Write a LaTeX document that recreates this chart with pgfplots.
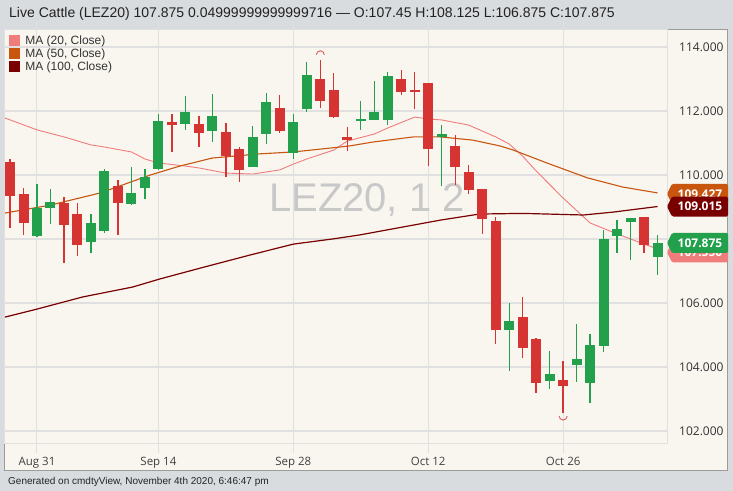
\documentclass[border=0pt]{standalone}
\usepackage{pgfplots}
\pgfplotsset{compat=1.18}
\usepackage{pgfplotstable}
\usepackage{fontspec}
\setmainfont{Liberation Sans}
\newfontfamily\osans{Open Sans}

\definecolor{bggray}{HTML}{D9DCDF}
\definecolor{cream}{HTML}{F9F6F0}
\definecolor{gridc}{HTML}{E0E0E0}
\definecolor{framec}{HTML}{9C9C9C}
\definecolor{upc}{HTML}{22A04B}
\definecolor{dnc}{HTML}{D63333}
\definecolor{ma20c}{HTML}{F07C7C}
\definecolor{ma50c}{HTML}{C8560F}
\definecolor{ma100c}{HTML}{780000}
\definecolor{wmc}{HTML}{C8C8C8}
\definecolor{txtc}{HTML}{222222}

% daily candles, x = trading day (0 = Aug 31)
\pgfplotstableread{
x   o       h       l       c
0   108.09  109.72  108.06  108.97
1   108.97  109.56  108.47  109.16
4   107.91  108.78  107.56  108.50
5   108.25  110.19  108.19  110.125
7   109.09  110.25  109.06  109.44
8   109.59  110.19  109.25  109.94
9   110.19  111.91  110.16  111.69
11  111.59  112.47  111.41  111.97
13  111.375 112.53  111.03  111.84
16  110.25  111.53  110.25  111.19
17  111.28  112.56  110.97  112.28
19  110.69  111.91  110.50  111.66
20  112.06  113.53  111.97  113.125
24  111.69  112.31  111.41  111.75
25  111.72  112.94  111.72  111.97
26  111.72  113.22  111.56  113.09
30  111.19  111.56  109.66  111.28
35  105.16  106.00  103.875 105.44
38  103.56  104.50  103.31  103.78
40  104.06  105.34  103.53  104.25
41  103.50  105.03  102.875 104.69
42  104.66  108.28  104.47  108.00
43  108.09  108.59  107.56  108.31
44  108.53  108.66  107.34  108.66
46  107.45  108.125 106.875 107.875
}\upcandles

\pgfplotstableread{
x   o       h       l       c
-2  110.41  110.50  108.34  109.34
-1  109.41  109.59  108.125 108.50
2   109.125 109.31  107.25  108.44
3   108.78  109.125 107.47  107.81
6   109.66  109.84  108.125 109.125
10  111.66  111.91  110.72  111.56
12  111.59  111.84  110.875 111.31
14  111.34  111.625 109.94  110.59
15  110.81  110.875 109.78  110.16
18  112.09  112.50  111.31  111.375
21  113.00  113.60  112.09  112.31
22  112.66  113.19  111.78  111.81
23  111.19  111.50  110.75  111.09
27  113.00  113.28  112.50  112.59
28  112.66  113.22  112.06  112.59
29  112.875 112.875 110.28  110.81
31  110.91  111.25  109.69  110.25
32  110.09  110.31  109.41  109.53
33  109.56  109.56  108.16  108.625
34  108.56  108.69  104.72  105.16
36  105.56  106.19  104.28  104.59
37  104.875 104.91  103.19  103.50
39  103.59  104.19  102.56  103.41
45  108.69  108.69  107.56  107.81
}\dncandles

\pgfdeclareplotmark{hiarc}{\pgfpathmoveto{\pgfpoint{-4bp}{5bp}}\pgfpatharc{180}{0}{4bp}\pgfusepathqstroke}
\pgfdeclareplotmark{loarc}{\pgfpathmoveto{\pgfpoint{-4bp}{-3bp}}\pgfpatharc{180}{360}{4bp}\pgfusepathqstroke}

\newcommand\pricetag[3]{%
  \fill[#2, rounded corners=1.5bp] (#1) -- ++(5bp,10bp) -- ++(56bp,0) -- ++(0,-20bp) -- ++(-56bp,0) -- cycle;
  \node[text=white, font=\osans\bfseries\fontsize{12bp}{12bp}\selectfont, inner sep=0pt] at ([xshift=33bp]#1) {#3};}

\begin{document}
\begin{tikzpicture}
\useasboundingbox (0bp,0bp) rectangle (733bp,491bp);
\fill[bggray] (0bp,0bp) rectangle (733bp,491bp);
\filldraw[fill=cream, draw=framec, line width=1bp] (4.5bp,20.5bp) rectangle (727.5bp,461.5bp);
\node[anchor=west, inner sep=0pt, text=txtc, font=\fontsize{14bp}{16bp}\selectfont] at (9bp,477bp)
  {Live Cattle (LEZ20) 107.875 0.04999999999999716 — O:107.45 H:108.125 L:106.875 C:107.875};
\node[anchor=west, inner sep=0pt, text=txtc, font=\fontsize{10bp}{12bp}\selectfont] at (8bp,9bp)
  {Generated on cmdtyView, November 4th 2020, 6:46:47 pm};

\begin{axis}[
  at={(5bp,47bp)}, anchor=south west,
  scale only axis, width=662bp, height=414bp,
  xmin=-2.372, xmax=46.70, ymin=101.594, ymax=114.531,
  axis line style={draw=gridc, line width=1bp},
  xtick={0,9,19,29,39},
  xticklabels={Aug 31,Sep 14,Sep 28,Oct 12,Oct 26},
  ytick={102,104,...,114},
  yticklabel pos=right,
  xmajorgrids, ymajorgrids,
  x grid style={draw=gridc, line width=1bp},
  y grid style={draw=gridc, line width=1.6bp},
  tick align=outside, major tick length=9bp,
  xtick style={draw=gridc, line width=1bp},
  ytick style={draw=none},
  xticklabel style={font=\osans\fontsize{11.5bp}{12bp}\selectfont, text=black!75, inner sep=0pt, yshift=-4bp},
  yticklabel style={font=\osans\fontsize{12bp}{12bp}\selectfont, text=black!80, anchor=west, inner sep=0pt, xshift=3bp,
    /pgf/number format/fixed, /pgf/number format/fixed zerofill, /pgf/number format/precision=3,
    /pgf/number format/assume math mode=true},
  legend style={at={(0,1)}, anchor=north west, xshift=4bp, yshift=-5bp, draw=none, fill=none,
    inner sep=0pt, font=\fontsize{12bp}{13bp}\selectfont, text=black!80, row sep=0pt, column sep=5bp,
    nodes={inner sep=0pt, text height=9.5bp, text depth=3.5bp}, cells={anchor=west}},
  legend image code/.code={\fill[#1] (0bp,-4bp) rectangle (10bp,6bp);},
]
\node[font=\fontsize{40bp}{40bp}\selectfont, text=wmc] at (axis cs:24.46,109.22) {LEZ20, 1 2};

% moving averages
\addplot[ma20c, line width=0.9bp] coordinates {
  (-2.37,111.78) (0,111.41) (2,111.19) (4,110.94) (5,110.875) (7,110.72) (8,110.5) (9,110.375)
  (11,110.28) (12,110.22) (14,110.06) (16,110.03) (18,110.16) (19,110.34) (20,110.5) (22,110.78)
  (23,111.06) (25,111.28) (26,111.47) (28,111.81) (29,111.75) (30,111.72) (32,111.56) (34,111.19)
  (35,110.97) (36,110.59) (37,110.125) (39,109.28) (41,108.5) (43,108.16) (45,107.84) (46,107.69)};
\addlegendentry{MA (20, Close)}
\addplot[ma50c, line width=1.1bp] coordinates {
  (-2.37,108.81) (1,109.06) (4.7,109.44) (8.4,110.0) (10.6,110.28) (13,110.53) (16.5,110.66)
  (19,110.72) (21.7,110.84) (23.2,110.91) (24.9,111.03) (27.9,111.19) (29.9,111.19) (32.3,111.09)
  (34.3,110.91) (35.3,110.78) (37.8,110.375) (40.8,109.91) (43.4,109.625) (46,109.44)};
\addlegendentry{MA (50, Close)}
\addplot[ma100c, line width=1.2bp] coordinates {
  (-2.37,105.56) (0,105.81) (3.4,106.19) (7.1,106.5) (9.1,106.75) (12.1,107.09) (15.8,107.5)
  (19,107.84) (21.9,108.0) (23.9,108.125) (25.9,108.28) (29.9,108.59) (32.8,108.78) (36,108.80)
  (40.5,108.75) (42.7,108.84) (46,109.015)};
\addlegendentry{MA (100, Close)}

% wicks
\addplot[forget plot, draw=none, mark=none, error bars/.cd, y dir=both, y explicit, error mark=none,
  error bar style={line width=1.3bp, draw=upc}]
  table[x=x, y expr={(\thisrow{h}+\thisrow{l})/2}, y error expr={(\thisrow{h}-\thisrow{l})/2}] {\upcandles};
\addplot[forget plot, draw=none, mark=none, error bars/.cd, y dir=both, y explicit, error mark=none,
  error bar style={line width=1.3bp, draw=dnc}]
  table[x=x, y expr={(\thisrow{h}+\thisrow{l})/2}, y error expr={(\thisrow{h}-\thisrow{l})/2}] {\dncandles};
% bodies
\addplot[forget plot, draw=none, mark=none, error bars/.cd, y dir=both, y explicit, error mark=none,
  error bar style={line width=10bp, draw=upc}]
  table[x=x, y expr={(\thisrow{o}+\thisrow{c})/2}, y error expr={max(abs(\thisrow{c}-\thisrow{o})/2,0.045)}] {\upcandles};
\addplot[forget plot, draw=none, mark=none, error bars/.cd, y dir=both, y explicit, error mark=none,
  error bar style={line width=10bp, draw=dnc}]
  table[x=x, y expr={(\thisrow{o}+\thisrow{c})/2}, y error expr={max(abs(\thisrow{c}-\thisrow{o})/2,0.045)}] {\dncandles};

% period high / low markers
\addplot[forget plot, only marks, mark=hiarc, mark options={draw=dnc!75, line width=1bp}] coordinates {(21,113.60)};
\addplot[forget plot, only marks, mark=loarc, mark options={draw=dnc!75, line width=1bp}] coordinates {(39,102.56)};

\coordinate (t20) at (axis cs:46.70,107.58);
\coordinate (tc) at (axis cs:46.70,107.875);
\coordinate (t50) at (axis cs:46.70,109.41);
\coordinate (t100) at (axis cs:46.70,109.015);
\end{axis}

\pricetag{t20}{ma20c}{107.550}
\pricetag{tc}{upc}{107.875}
\pricetag{t50}{ma50c}{109.427}
\pricetag{t100}{ma100c}{109.015}
\end{tikzpicture}
\end{document}
